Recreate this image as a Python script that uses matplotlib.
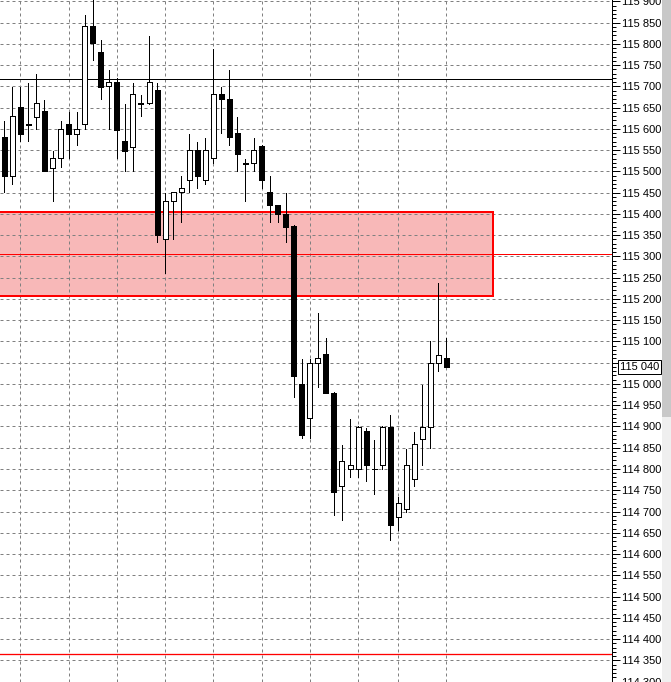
import numpy as np
import matplotlib
matplotlib.use('Agg')
from matplotlib import pyplot as plt
from matplotlib.patches import Rectangle
from matplotlib.ticker import MultipleLocator, FuncFormatter
import matplotlib.transforms as mtransforms

# 4H candles (oldest -> newest)
opens = [115581, 115490, 115651, 115612, 115629, 115642, 115509, 115531, 115612, 115589,
         115611, 115841, 115780, 115700, 115710, 115572, 115558, 115661, 115660, 115692,
         115340, 115430, 115451, 115479, 115550, 115479, 115531, 115681, 115670, 115590,
         115520, 115519, 115560, 115451, 115421, 115400, 115372, 115000, 114920, 115049,
         115071, 114979, 114760, 114800, 114800, 114889, 114801, 114809, 114898, 114688,
         114707, 114777, 114870, 114898, 115049, 115060]
highs = [115619, 115699, 115699, 115707, 115729, 115668, 115548, 115619, 115640, 115640,
         115868, 115910, 115809, 115739, 115719, 115659, 115707, 115680, 115819, 115707,
         115450, 115452, 115489, 115588, 115569, 115578, 115788, 115698, 115739, 115628,
         115529, 115579, 115562, 115489, 115422, 115450, 115373, 115058, 115058, 115168,
         115109, 114980, 114857, 114918, 114900, 114897, 114869, 114900, 114927, 114735,
         114847, 114886, 114998, 115100, 115238, 115109]
lows = [115451, 115471, 115572, 115572, 115600, 115500, 115431, 115511, 115532, 115561,
        115600, 115762, 115670, 115600, 115532, 115500, 115502, 115631, 115658, 115333,
        115262, 115342, 115382, 115452, 115462, 115471, 115519, 115591, 115561, 115501,
        115431, 115502, 115460, 115382, 115382, 115333, 114970, 114873, 114873, 114993,
        114978, 114691, 114681, 114781, 114781, 114771, 114740, 114800, 114632, 114657,
        114700, 114760, 114810, 114849, 115031, 115040]
closes = [115490, 115630, 115589, 115610, 115660, 115500, 115531, 115599, 115589, 115599,
          115841, 115801, 115699, 115710, 115598, 115549, 115681, 115659, 115710, 115350,
          115430, 115451, 115460, 115550, 115490, 115550, 115681, 115669, 115580, 115540,
          115518, 115550, 115479, 115420, 115400, 115370, 115019, 114879, 115049, 115061,
          114979, 114747, 114818, 114809, 114899, 114809, 114799, 114899, 114668, 114719,
          114809, 114859, 114898, 115049, 115069, 115040]

day_starts = [2, 8, 14, 20, 26, 32, 38, 44, 49, 55]   # bars where a new day begins

resistance = 115717
mid_line = 115305
support = 114365
zone_top, zone_bottom, zone_end = 115405, 115208, 60.8
last_price = 115040

W, H = 671, 682
fig = plt.figure(figsize=(W/100, H/100), dpi=100)
ax = fig.add_axes([0, 0, 612/W, 1])

n = len(opens)
x = np.arange(n)
o, h, l, c = map(np.array, (opens, highs, lows, closes))
up = c >= o

px = 1/100*72  # one pixel in points
grid_kw = dict(color='#808080', lw=px, ls=(0, (3, 3)))
FONT = ['Liberation Sans', 'DejaVu Sans']

# zone rectangle (behind everything)
ax.add_patch(Rectangle((-5, zone_bottom), zone_end + 5, zone_top - zone_bottom,
                       facecolor='#f8b8b8', edgecolor='none', zorder=0))

# grid
for v in np.arange(114300, 115950, 50):
    ax.axhline(v, zorder=1, **grid_kw)
for d in day_starts:
    ax.axvline(d, zorder=1, **grid_kw)

ax.add_patch(Rectangle((-5, zone_bottom), zone_end + 5, zone_top - zone_bottom,
                       facecolor='none', edgecolor='#ff0000', lw=2*px, zorder=2))
ax.axhline(mid_line, color='#ff0000', lw=px, zorder=2)
ax.axhline(support, color='#ff0000', lw=1.3*px, zorder=2)
ax.axhline(resistance, color='black', lw=px, zorder=2)

# candles
ax.vlines(x, l, h, color='black', lw=px, zorder=3, antialiased=False)
bw = 0.62
body_lo = np.minimum(o, c)
body_h = np.maximum(np.abs(c - o), 1)
ax.bar(x[up], body_h[up], bw, body_lo[up], facecolor='white', edgecolor='black',
       lw=px, zorder=4, antialiased=False)
ax.bar(x[~up], body_h[~up], bw, body_lo[~up], facecolor='black', edgecolor='black',
       lw=px, zorder=4, antialiased=False)

ax.set_xlim(-4.3/8.04, (612-4.3)/8.04)
ax.set_ylim(114299, 115903)

for s in ['left', 'top', 'bottom']:
    ax.spines[s].set_visible(False)
ax.spines['right'].set_linewidth(px)
ax.set_xticks([])
ax.yaxis.tick_right()
ax.yaxis.set_major_locator(MultipleLocator(50))
ax.yaxis.set_minor_locator(MultipleLocator(10))
fmt = lambda v, pos: '' if round(v) == 115050 else f'{int(round(v)):,}'.replace(',', ' ')
ax.yaxis.set_major_formatter(FuncFormatter(fmt))
ax.tick_params(axis='y', which='major', length=6, width=px, pad=1.5,
               labelsize=8, labelcolor='black')
ax.tick_params(axis='y', which='minor', length=3, width=px)
for t in ax.get_yticklabels():
    t.set_family(FONT)

# current price label
tr = mtransforms.blended_transform_factory(ax.transAxes, ax.transData)
ax.text(620/612, last_price, f'{last_price:,}'.replace(',', ' '), transform=tr,
        ha='left', va='center', fontsize=8, family=FONT,
        bbox=dict(boxstyle='square,pad=0.15', fc='white', ec='black', lw=px),
        zorder=10, clip_on=False)

# scrollbar on the far right
fig.add_artist(Rectangle((662/W, 0), 9/W, (H-417)/H, transform=fig.transFigure,
                         facecolor='#efefef', edgecolor='none'))
fig.add_artist(Rectangle((662/W, (H-417)/H), 9/W, 417/H, transform=fig.transFigure,
                         facecolor='#c8c8c8', edgecolor='none'))

fig.savefig('out.png', dpi=100)
